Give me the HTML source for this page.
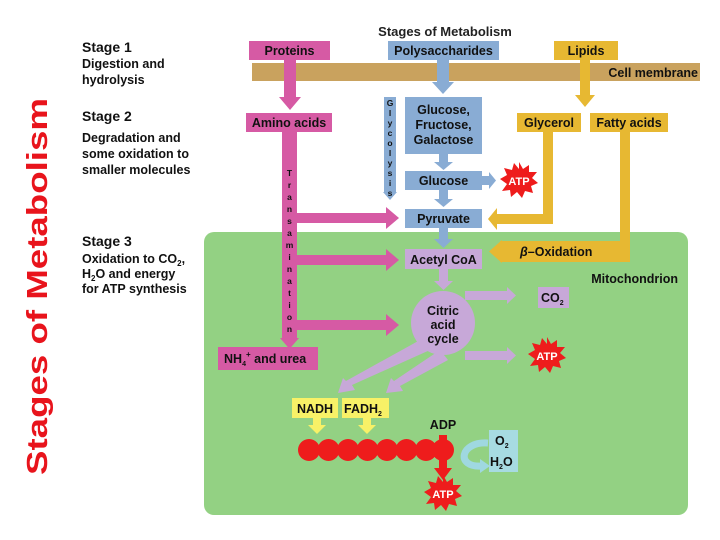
<!DOCTYPE html>
<html><head><meta charset="utf-8"><style>
html,body{margin:0;padding:0;background:#fff;width:720px;height:540px;overflow:hidden}
svg{display:block}
text{font-family:"Liberation Sans",Arial,sans-serif;font-weight:bold}
</style></head><body>
<svg width="720" height="540" viewBox="0 0 720 540" xmlns="http://www.w3.org/2000/svg">
<defs>
<g id="star"><polygon fill="#ee1c1c" points="0,-18 4,-11 10,-15 10,-8 18,-8 13,-2 19,3 12,6 14,13 6,11 3,18 -2,12 -8,17 -9,10 -17,11 -12,4 -19,-1 -12,-5 -15,-12 -7,-10 -5,-17 0,-11"/></g>
</defs>
<!-- vertical title -->
<text transform="translate(47,475) rotate(-90)" font-size="29" fill="#e8141c" textLength="377" lengthAdjust="spacingAndGlyphs">Stages of Metabolism</text>
<!-- left stage text -->
<g font-size="14" fill="#111">
<text x="82" y="52">Stage 1</text>
<text x="82" y="121">Stage 2</text>
<text x="82" y="246">Stage 3</text>
</g>
<g font-size="12.5" fill="#111">
<text x="82" y="68">Digestion and</text>
<text x="82" y="84">hydrolysis</text>
<text x="82" y="142">Degradation and</text>
<text x="82" y="158">some oxidation to</text>
<text x="82" y="174">smaller molecules</text>
<text x="82" y="263">Oxidation to CO<tspan font-size="8" dy="3">2</tspan><tspan dy="-3">,</tspan></text>
<text x="82" y="278">H<tspan font-size="8" dy="3">2</tspan><tspan dy="-3">O and energy</tspan></text>
<text x="82" y="293">for ATP synthesis</text>
</g>
<!-- title -->
<text x="445" y="36" font-size="13" text-anchor="middle" fill="#222">Stages of Metabolism</text>
<!-- green mitochondrion -->
<rect x="204" y="232" width="484" height="283" rx="10" fill="#93d183"/>
<!-- membrane -->
<rect x="252" y="63" width="448" height="18" fill="#c9a25e"/>
<text x="698" y="77" font-size="12.5" text-anchor="end" fill="#111">Cell membrane</text>
<!-- proteins arrow -->
<rect x="284" y="59" width="12" height="40" fill="#d65aa4"/>
<polygon points="279,97 301,97 290,110" fill="#d65aa4"/>
<!-- poly arrow -->
<rect x="437" y="59" width="12" height="25" fill="#89acd4"/>
<polygon points="432,82 454,82 443,94" fill="#89acd4"/>
<!-- lipid arrow -->
<rect x="580" y="59" width="10" height="38" fill="#e7b832"/>
<polygon points="575,95 595,95 585,107" fill="#e7b832"/>
<!-- boxes top -->
<rect x="249" y="41" width="81" height="19" fill="#d65aa4"/>
<text x="289.5" y="55" font-size="12.5" text-anchor="middle" fill="#111">Proteins</text>
<rect x="388" y="41" width="111" height="19" fill="#89acd4"/>
<text x="443.5" y="55" font-size="12.5" text-anchor="middle" fill="#111">Polysaccharides</text>
<rect x="554" y="41" width="64" height="19" fill="#e7b832"/>
<text x="586" y="55" font-size="12.5" text-anchor="middle" fill="#111">Lipids</text>
<!-- pink transamination -->
<rect x="282" y="130" width="15" height="210" fill="#d65aa4"/>
<polygon points="280,338 299,338 289.5,349" fill="#d65aa4"/>
<rect x="296" y="213" width="92" height="10" fill="#d65aa4"/>
<polygon points="386,207 399,218 386,229" fill="#d65aa4"/>
<rect x="296" y="255" width="92" height="10" fill="#d65aa4"/>
<polygon points="386,249 399,260 386,271" fill="#d65aa4"/>
<rect x="296" y="320" width="92" height="10" fill="#d65aa4"/>
<polygon points="386,314 399,325 386,336" fill="#d65aa4"/>
<text font-size="8.5" fill="#111" text-anchor="middle">
<tspan x="289.5" y="176">T</tspan><tspan x="289.5" y="188">r</tspan><tspan x="289.5" y="200">a</tspan><tspan x="289.5" y="212">n</tspan><tspan x="289.5" y="224">s</tspan><tspan x="289.5" y="236">a</tspan><tspan x="289.5" y="248">m</tspan><tspan x="289.5" y="260">i</tspan><tspan x="289.5" y="272">n</tspan><tspan x="289.5" y="284">a</tspan><tspan x="289.5" y="296">t</tspan><tspan x="289.5" y="308">i</tspan><tspan x="289.5" y="320">o</tspan><tspan x="289.5" y="332">n</tspan>
</text>
<rect x="246" y="113" width="86" height="19" fill="#d65aa4"/>
<text x="289" y="127" font-size="12.5" text-anchor="middle" fill="#111">Amino acids</text>
<rect x="218" y="347" width="100" height="23" fill="#d65aa4"/>
<text x="224" y="363" font-size="12.5" fill="#111">NH<tspan font-size="7" dy="3">4</tspan><tspan font-size="8" dy="-9">+</tspan><tspan dy="6"> and urea</tspan></text>
<!-- glycolysis -->
<rect x="384" y="97" width="12" height="96" fill="#89acd4"/>
<polygon points="383,192 397,192 390,200" fill="#89acd4"/>
<text font-size="8.5" fill="#111" text-anchor="middle">
<tspan x="390" y="106">G</tspan><tspan x="390" y="116">l</tspan><tspan x="390" y="126">y</tspan><tspan x="390" y="136">c</tspan><tspan x="390" y="146">o</tspan><tspan x="390" y="156">l</tspan><tspan x="390" y="166">y</tspan><tspan x="390" y="176">s</tspan><tspan x="390" y="186">i</tspan><tspan x="390" y="196">s</tspan>
</text>
<!-- carb chain -->
<rect x="405" y="97" width="77" height="57" fill="#89acd4"/>
<text font-size="12.5" text-anchor="middle" fill="#111"><tspan x="443.5" y="114">Glucose,</tspan><tspan x="443.5" y="129">Fructose,</tspan><tspan x="443.5" y="144">Galactose</tspan></text>
<rect x="439" y="153" width="9" height="10" fill="#89acd4"/><polygon points="434,162 453,162 443.5,170" fill="#89acd4"/>
<rect x="405" y="171" width="77" height="19" fill="#89acd4"/>
<text x="443.5" y="185" font-size="12.5" text-anchor="middle" fill="#111">Glucose</text>
<rect x="482" y="176" width="8" height="9" fill="#89acd4"/><polygon points="489,172 496,180.5 489,189" fill="#89acd4"/>
<use href="#star" x="519" y="180"/>
<text x="519" y="185" font-size="11" text-anchor="middle" fill="#fff">ATP</text>
<rect x="439" y="190" width="9" height="10" fill="#89acd4"/><polygon points="434,199 453,199 443.5,207" fill="#89acd4"/>
<rect x="405" y="209" width="77" height="19" fill="#89acd4"/>
<text x="443.5" y="223" font-size="12.5" text-anchor="middle" fill="#111">Pyruvate</text>
<rect x="439" y="228" width="9" height="12" fill="#89acd4"/><polygon points="434,239 453,239 443.5,248" fill="#89acd4"/>
<!-- lipid side -->
<rect x="517" y="113" width="64" height="19" fill="#e7b832"/>
<text x="549" y="127" font-size="12.5" text-anchor="middle" fill="#111">Glycerol</text>
<rect x="590" y="113" width="78" height="19" fill="#e7b832"/>
<text x="629" y="127" font-size="12.5" text-anchor="middle" fill="#111">Fatty acids</text>
<rect x="543" y="131" width="10" height="93" fill="#e7b832"/>
<rect x="496" y="214" width="57" height="10" fill="#e7b832"/>
<polygon points="497,208 488,219 497,230" fill="#e7b832"/>
<rect x="620" y="131" width="10" height="131" fill="#e7b832"/>
<rect x="500" y="241" width="130" height="21" fill="#e7b832"/>
<polygon points="502,240 489,251.5 502,263" fill="#e7b832"/>
<text x="520" y="256" font-size="12.5" fill="#111"><tspan font-style="italic">β</tspan>–Oxidation</text>
<text x="678" y="283" font-size="12.5" text-anchor="end" fill="#111">Mitochondrion</text>
<!-- Acetyl & citric -->
<rect x="405" y="249" width="77" height="20" fill="#c7a8d8"/>
<text x="443.5" y="264" font-size="12.5" text-anchor="middle" fill="#111">Acetyl CoA</text>
<rect x="439" y="269" width="9" height="14" fill="#c7a8d8"/><polygon points="434,281 453,281 443.5,290" fill="#c7a8d8"/>
<polygon points="465,291 507,291 507,287 516,295.5 507,304 507,300 465,300" fill="#c7a8d8"/>
<polygon points="465,351 507,351 507,347 516,355.5 507,364 507,360 465,360" fill="#c7a8d8"/>
<polygon points="420,340 430,350 352,385 355,390 338,393 343,378 346,381" fill="#c7a8d8"/>
<polygon points="440,350 448,360 400,386 403,391 386,393 391,378 394,381" fill="#c7a8d8"/>
<circle cx="443" cy="323" r="32" fill="#c7a8d8"/>
<text font-size="12.5" text-anchor="middle" fill="#111"><tspan x="443" y="315">Citric</tspan><tspan x="443" y="329">acid</tspan><tspan x="443" y="343">cycle</tspan></text>
<rect x="538" y="287" width="31" height="21" fill="#c7a8d8"/>
<text x="541" y="302" font-size="12.5" fill="#111">CO<tspan font-size="7" dy="3">2</tspan></text>
<use href="#star" x="547" y="355"/>
<text x="547" y="360" font-size="11" text-anchor="middle" fill="#fff">ATP</text>
<!-- electron transport -->
<rect x="292" y="398" width="46" height="20" fill="#f8f167"/>
<text x="315" y="413" font-size="12.5" text-anchor="middle" fill="#111">NADH</text>
<rect x="342" y="398" width="47" height="20" fill="#f8f167"/>
<text x="344" y="413" font-size="12.5" fill="#111">FADH<tspan font-size="7" dy="3">2</tspan></text>
<rect x="313" y="418" width="8" height="9" fill="#f8f167"/><polygon points="308,425 326,425 317,434" fill="#f8f167"/>
<rect x="363" y="418" width="8" height="9" fill="#f8f167"/><polygon points="358,425 376,425 367,434" fill="#f8f167"/>
<g fill="#ee1c1c">
<circle cx="309" cy="450" r="11"/><circle cx="328.5" cy="450" r="11"/><circle cx="348" cy="450" r="11"/><circle cx="367.5" cy="450" r="11"/><circle cx="387" cy="450" r="11"/><circle cx="406.5" cy="450" r="11"/><circle cx="426" cy="450" r="11"/><circle cx="443" cy="450" r="11"/>
<rect x="439" y="435" width="8" height="36"/><polygon points="434,468 452,468 443,480"/>
</g>
<text x="443" y="429" font-size="12.5" text-anchor="middle" fill="#111">ADP</text>
<use href="#star" x="443" y="493"/>
<text x="443" y="498" font-size="11" text-anchor="middle" fill="#fff">ATP</text>
<path d="M488,443 C460,441 455,468 482,466" fill="none" stroke="#9fd8e0" stroke-width="7"/>
<polygon points="480,459 490,466 480,473" fill="#9fd8e0"/>
<rect x="489" y="430" width="29" height="42" fill="#a7dbe2"/>
<text x="495" y="445" font-size="12.5" fill="#111">O<tspan font-size="7" dy="3">2</tspan></text>
<text x="490" y="466" font-size="12.5" fill="#111">H<tspan font-size="7" dy="3">2</tspan><tspan dy="-3">O</tspan></text>
</svg>
</body></html>
